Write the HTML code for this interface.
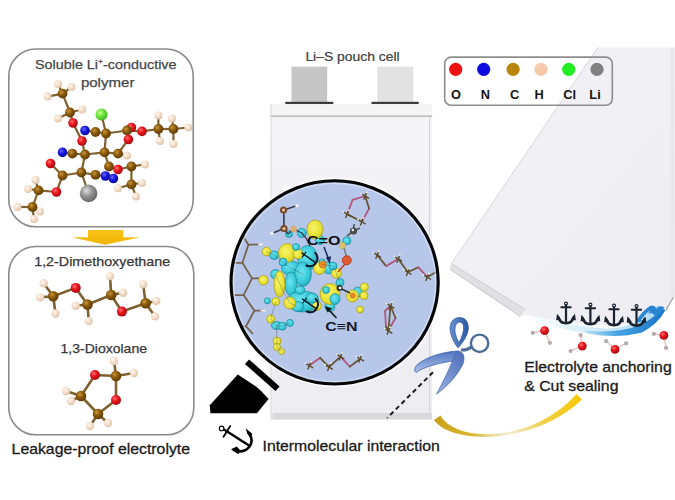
<!DOCTYPE html>
<html><head><meta charset="utf-8"><style>
html,body{margin:0;padding:0;background:#fff;}
body{width:675px;height:500px;overflow:hidden;position:relative;font-family:"Liberation Sans", sans-serif;}
svg{position:absolute;left:0;top:0;}
.t{position:absolute;white-space:nowrap;line-height:1;}
</style></head><body>
<svg width="675" height="500" viewBox="0 0 675 500">
<defs>
<radialGradient id="cC" cx="0.38" cy="0.35" r="0.7"><stop offset="0" stop-color="#c8973a"/><stop offset="0.45" stop-color="#8a5a0c"/><stop offset="1" stop-color="#5a3806"/></radialGradient>
<radialGradient id="cO" cx="0.38" cy="0.35" r="0.7"><stop offset="0" stop-color="#ff7070"/><stop offset="0.45" stop-color="#e8131c"/><stop offset="1" stop-color="#a00a10"/></radialGradient>
<radialGradient id="cN" cx="0.38" cy="0.35" r="0.7"><stop offset="0" stop-color="#6a6aff"/><stop offset="0.45" stop-color="#1717e0"/><stop offset="1" stop-color="#0a0a90"/></radialGradient>
<radialGradient id="cH" cx="0.38" cy="0.35" r="0.7"><stop offset="0" stop-color="#fff8f0"/><stop offset="0.45" stop-color="#f4e0cc"/><stop offset="1" stop-color="#dcc0a8"/></radialGradient>
<radialGradient id="cCl" cx="0.38" cy="0.35" r="0.7"><stop offset="0" stop-color="#c8ff90"/><stop offset="0.45" stop-color="#6ee63c"/><stop offset="1" stop-color="#40b020"/></radialGradient>
<radialGradient id="cLi" cx="0.38" cy="0.35" r="0.7"><stop offset="0" stop-color="#e0e0e0"/><stop offset="0.45" stop-color="#959595"/><stop offset="1" stop-color="#626262"/></radialGradient>
<linearGradient id="arrowY" x1="0" y1="0" x2="0" y2="1"><stop offset="0" stop-color="#f7c21a"/><stop offset="1" stop-color="#f0b400"/></linearGradient>
<linearGradient id="yarc" x1="0" y1="0" x2="1" y2="0"><stop offset="0" stop-color="#c8a01a"/><stop offset="0.25" stop-color="#d8b830"/><stop offset="0.5" stop-color="#f2eed8"/><stop offset="0.75" stop-color="#f0d048"/><stop offset="1" stop-color="#f8c800"/></linearGradient>
<linearGradient id="sheet" x1="0" y1="0" x2="1" y2="1"><stop offset="0" stop-color="#f2f2f6"/><stop offset="1" stop-color="#ededf2"/></linearGradient>
<linearGradient id="wave" x1="0" y1="0" x2="1" y2="0"><stop offset="0" stop-color="#eef8fc" stop-opacity="0.5"/><stop offset="0.5" stop-color="#cfeaf6"/><stop offset="1" stop-color="#a8d8f2"/></linearGradient><linearGradient id="waveB" x1="0" y1="0" x2="1" y2="0"><stop offset="0" stop-color="#9ad0f0" stop-opacity="0.6"/><stop offset="0.4" stop-color="#48a6e4"/><stop offset="1" stop-color="#1a72c6"/></linearGradient>
<linearGradient id="sciss" x1="0" y1="0" x2="1" y2="1"><stop offset="0" stop-color="#3f78c8"/><stop offset="1" stop-color="#9ab4e0"/></linearGradient>
<radialGradient id="gY" cx="0.42" cy="0.4" r="0.65"><stop offset="0" stop-color="#f6f46a"/><stop offset="0.7" stop-color="#e8e030"/><stop offset="1" stop-color="#c8c028"/></radialGradient>
<radialGradient id="gC" cx="0.42" cy="0.4" r="0.65"><stop offset="0" stop-color="#6ae6f0"/><stop offset="0.7" stop-color="#36c6d6"/><stop offset="1" stop-color="#1ea2b2"/></radialGradient>
<radialGradient id="gO" cx="0.5" cy="0.5" r="0.6"><stop offset="0" stop-color="#f07818"/><stop offset="1" stop-color="#e8a840"/></radialGradient>
<linearGradient id="pouchG" x1="0" y1="0" x2="0" y2="1"><stop offset="0" stop-color="#f5f5f7"/><stop offset="1" stop-color="#ededf1"/></linearGradient>
<filter id="soft" x="-10%" y="-10%" width="120%" height="120%"><feGaussianBlur stdDeviation="0.55"/></filter>
<linearGradient id="loopG" x1="0" y1="0" x2="1" y2="0"><stop offset="0" stop-color="#6a92d2"/><stop offset="1" stop-color="#2856a4"/></linearGradient>
<linearGradient id="bladeA" x1="0" y1="0" x2="0" y2="1"><stop offset="0" stop-color="#4f74c0"/><stop offset="1" stop-color="#aec2e8"/></linearGradient>
<linearGradient id="bladeB" x1="1" y1="0" x2="0" y2="1"><stop offset="0" stop-color="#4a6cb8"/><stop offset="1" stop-color="#9cb2e0"/></linearGradient>
<clipPath id="circ"><ellipse cx="334.6" cy="282.4" rx="104" ry="102"/></clipPath>
</defs>
<path d="M598,47.4 L675,47.4 L675,296 L673,297 L666,310 Q656,324 630,323 Q600,328 560,321 L527,315 L520.2,316.4 L449.8,269.2 L451.4,263.6 Z" fill="url(#sheet)"/>
<path d="M451.4,263.6 L525,309.2 L520.2,316.4 L449.8,269.2 Z" fill="#e0e0e4"/>
<line x1="451.4" y1="263.6" x2="525" y2="309.2" stroke="#cfd0d5" stroke-width="1"/>
<line x1="449.8" y1="269.2" x2="520.2" y2="316.4" stroke="#c8c8cd" stroke-width="1"/>
<line x1="598" y1="47.4" x2="451.4" y2="263.6" stroke="#d6d6dc" stroke-width="1"/>
<line x1="666" y1="310" x2="673.5" y2="297" stroke="#9a9aa0" stroke-width="1.2"/>
<rect x="670.5" y="47.4" width="3.5" height="249" fill="#e7e7ec"/>
<rect x="444.7" y="57.1" width="167.6" height="48.2" rx="6.5" fill="none" stroke="#8e8e8e" stroke-width="1.6"/>
<circle cx="455.7" cy="69.3" r="6.6" fill="#ee1111"/>
<circle cx="483.7" cy="69.3" r="6.6" fill="#0c0ce0"/>
<circle cx="513.1" cy="69.3" r="6.6" fill="#b8860b"/>
<circle cx="541" cy="69.3" r="6.6" fill="#f6c9aa"/>
<circle cx="568.7" cy="69.3" r="6.6" fill="#22ee22"/>
<circle cx="597" cy="69.3" r="6.6" fill="#808080"/>
<rect x="8.8" y="49" width="184.4" height="177.8" rx="27" fill="#fff" stroke="#8a8a8a" stroke-width="1.6"/>
<rect x="8.8" y="246.5" width="185" height="188.3" rx="27" fill="#fff" stroke="#8a8a8a" stroke-width="1.6"/>
<path d="M88,230 L123.3,230 L123.3,237.3 L140,237.3 L105,244.7 L72,237.3 L88,237.3 Z" fill="url(#arrowY)"/>
<rect x="291.5" y="66.7" width="35.7" height="36.5" fill="#c6c6c6"/>
<rect x="377.3" y="66.7" width="36" height="36.5" fill="#e2e2e2"/>
<rect x="285.3" y="101.8" width="48" height="3" fill="#3c3c3c"/>
<rect x="371.5" y="101.8" width="47.2" height="3" fill="#3c3c3c"/>
<rect x="270.6" y="104.2" width="161.5" height="315.3" fill="url(#pouchG)"/>
<rect x="270.6" y="104.2" width="161.5" height="11.5" fill="#f5f5f6"/>
<line x1="270.6" y1="116.2" x2="432.1" y2="116.2" stroke="#acacb0" stroke-width="1.3"/>
<rect x="272.5" y="412.5" width="159.6" height="7" fill="#d9d9dd"/>
<line x1="270.6" y1="411.8" x2="432.1" y2="411.8" stroke="#f6f6f6" stroke-width="1"/>
<line x1="429.6" y1="116" x2="429.6" y2="412" stroke="#d4d4d8" stroke-width="1"/>
<line x1="271" y1="104" x2="271" y2="419.5" stroke="#dadadf" stroke-width="1"/>
<ellipse cx="334.6" cy="282.4" rx="103.5" ry="101.5" fill="#b7c7e9"/>
<g clip-path="url(#circ)">
<polyline points="242,234.5 248.4,244.8 242.4,262.8 252,278.4 243.6,295.1 254.4,310.7 246,326.3 253,334" fill="none" stroke="#76634e" stroke-width="1.8" stroke-linejoin="round"/>
<line x1="248.4" y1="244.8" x2="259.5" y2="244.3" stroke="#76634e" stroke-width="1.7"/>
<line x1="242.4" y1="262.8" x2="229" y2="262.8" stroke="#76634e" stroke-width="1.7"/>
<line x1="252" y1="278.4" x2="261.6" y2="278.4" stroke="#76634e" stroke-width="1.7"/>
<line x1="243.6" y1="295.1" x2="230" y2="295.1" stroke="#76634e" stroke-width="1.7"/>
<line x1="254.4" y1="310.7" x2="262.8" y2="310.7" stroke="#76634e" stroke-width="1.7"/>
<line x1="246" y1="326.3" x2="235" y2="326.3" stroke="#76634e" stroke-width="1.7"/>
<line x1="258" y1="244.3" x2="263" y2="244.3" stroke="#f0ece8" stroke-width="1.8"/>
<line x1="260.5" y1="310.7" x2="265.5" y2="310.7" stroke="#f0ece8" stroke-width="1.8"/>
<line x1="228" y1="262.8" x2="233" y2="262.8" stroke="#f0ece8" stroke-width="1.8"/>
<line x1="229" y1="295.1" x2="234" y2="295.1" stroke="#f0ece8" stroke-width="1.8"/>
<line x1="234" y1="326.3" x2="239" y2="326.3" stroke="#f0ece8" stroke-width="1.8"/>
<line x1="365.2" y1="196" x2="352.6" y2="199.8" stroke="#b0587e" stroke-width="1.8" stroke-linecap="round"/><line x1="352.6" y1="199.8" x2="347.1" y2="214.1" stroke="#b0587e" stroke-width="1.8" stroke-linecap="round"/>
<line x1="347.1" y1="214.1" x2="361.9" y2="221.8" stroke="#665638" stroke-width="1.8" stroke-linecap="round"/>
<line x1="361.9" y1="221.8" x2="369.1" y2="208.6" stroke="#b0587e" stroke-width="1.8" stroke-linecap="round"/><line x1="369.1" y1="208.6" x2="365.2" y2="196" stroke="#665638" stroke-width="1.8" stroke-linecap="round"/>
<line x1="361.4" y1="193.72" x2="369.0" y2="198.28" stroke="#5a4a2a" stroke-width="1.4"/><line x1="363.68" y1="199.8" x2="366.71999999999997" y2="192.2" stroke="#5a4a2a" stroke-width="1.4"/><circle cx="361.4" cy="193.72" r="1" fill="#f4efe6"/><circle cx="366.71999999999997" cy="192.2" r="1" fill="#f4efe6"/>
<line x1="343.3" y1="211.82" x2="350.90000000000003" y2="216.38" stroke="#5a4a2a" stroke-width="1.4"/><line x1="345.58000000000004" y1="217.9" x2="348.62" y2="210.29999999999998" stroke="#5a4a2a" stroke-width="1.4"/><circle cx="343.3" cy="211.82" r="1" fill="#f4efe6"/><circle cx="348.62" cy="210.29999999999998" r="1" fill="#f4efe6"/>
<line x1="358.09999999999997" y1="219.52" x2="365.7" y2="224.08" stroke="#5a4a2a" stroke-width="1.4"/><line x1="360.38" y1="225.60000000000002" x2="363.41999999999996" y2="218.0" stroke="#5a4a2a" stroke-width="1.4"/><circle cx="358.09999999999997" cy="219.52" r="1" fill="#f4efe6"/><circle cx="363.41999999999996" cy="218.0" r="1" fill="#f4efe6"/>
<line x1="377.2" y1="255" x2="386.1" y2="266.1" stroke="#665638" stroke-width="1.8" stroke-linecap="round"/><line x1="386.1" y1="266.1" x2="398.3" y2="258.9" stroke="#b0587e" stroke-width="1.8" stroke-linecap="round"/><line x1="398.3" y1="258.9" x2="407.8" y2="272.2" stroke="#665638" stroke-width="1.8" stroke-linecap="round"/><line x1="407.8" y1="272.2" x2="418.3" y2="267.2" stroke="#665638" stroke-width="1.8" stroke-linecap="round"/><line x1="418.3" y1="267.2" x2="427.2" y2="277.2" stroke="#b0587e" stroke-width="1.8" stroke-linecap="round"/><line x1="427.2" y1="277.2" x2="436" y2="272" stroke="#665638" stroke-width="1.8" stroke-linecap="round"/>
<line x1="373.4" y1="252.72" x2="381.0" y2="257.28" stroke="#5a4a2a" stroke-width="1.4"/><line x1="375.68" y1="258.8" x2="378.71999999999997" y2="251.2" stroke="#5a4a2a" stroke-width="1.4"/><circle cx="373.4" cy="252.72" r="1" fill="#f4efe6"/><circle cx="378.71999999999997" cy="251.2" r="1" fill="#f4efe6"/>
<line x1="394.5" y1="256.62" x2="402.1" y2="261.17999999999995" stroke="#5a4a2a" stroke-width="1.4"/><line x1="396.78000000000003" y1="262.7" x2="399.82" y2="255.09999999999997" stroke="#5a4a2a" stroke-width="1.4"/><circle cx="394.5" cy="256.62" r="1" fill="#f4efe6"/><circle cx="399.82" cy="255.09999999999997" r="1" fill="#f4efe6"/>
<line x1="404.0" y1="269.92" x2="411.6" y2="274.47999999999996" stroke="#5a4a2a" stroke-width="1.4"/><line x1="406.28000000000003" y1="276.0" x2="409.32" y2="268.4" stroke="#5a4a2a" stroke-width="1.4"/><circle cx="404.0" cy="269.92" r="1" fill="#f4efe6"/><circle cx="409.32" cy="268.4" r="1" fill="#f4efe6"/>
<line x1="423.4" y1="274.92" x2="431.0" y2="279.47999999999996" stroke="#5a4a2a" stroke-width="1.4"/><line x1="425.68" y1="281.0" x2="428.71999999999997" y2="273.4" stroke="#5a4a2a" stroke-width="1.4"/><circle cx="423.4" cy="274.92" r="1" fill="#f4efe6"/><circle cx="428.71999999999997" cy="273.4" r="1" fill="#f4efe6"/>
<line x1="390.5" y1="306" x2="385" y2="311" stroke="#b0587e" stroke-width="1.8" stroke-linecap="round"/><line x1="385" y1="311" x2="386" y2="327" stroke="#b0587e" stroke-width="1.8" stroke-linecap="round"/>
<line x1="386" y1="327" x2="388.5" y2="329.5" stroke="#665638" stroke-width="1.8" stroke-linecap="round"/><line x1="388.5" y1="329.5" x2="391.5" y2="325" stroke="#665638" stroke-width="1.8" stroke-linecap="round"/>
<line x1="391.5" y1="325" x2="395.5" y2="318" stroke="#b0587e" stroke-width="1.8" stroke-linecap="round"/>
<line x1="395.5" y1="318" x2="390.5" y2="306" stroke="#665638" stroke-width="1.8" stroke-linecap="round"/>
<line x1="390.5" y1="306" x2="388.5" y2="329.5" stroke="#665638" stroke-width="1.8" stroke-linecap="round"/>
<line x1="386.7" y1="303.72" x2="394.3" y2="308.28" stroke="#5a4a2a" stroke-width="1.4"/><line x1="388.98" y1="309.8" x2="392.02" y2="302.2" stroke="#5a4a2a" stroke-width="1.4"/><circle cx="386.7" cy="303.72" r="1" fill="#f4efe6"/><circle cx="392.02" cy="302.2" r="1" fill="#f4efe6"/>
<line x1="384.7" y1="328.72" x2="392.3" y2="333.28" stroke="#5a4a2a" stroke-width="1.4"/><line x1="386.98" y1="334.8" x2="390.02" y2="327.2" stroke="#5a4a2a" stroke-width="1.4"/><circle cx="384.7" cy="328.72" r="1" fill="#f4efe6"/><circle cx="390.02" cy="327.2" r="1" fill="#f4efe6"/>
<line x1="309.3" y1="365.6" x2="320.2" y2="357.8" stroke="#b0587e" stroke-width="1.8" stroke-linecap="round"/><line x1="320.2" y1="357.8" x2="329" y2="367.1" stroke="#665638" stroke-width="1.8" stroke-linecap="round"/><line x1="329" y1="367.1" x2="340.5" y2="356.7" stroke="#665638" stroke-width="1.8" stroke-linecap="round"/><line x1="340.5" y1="356.7" x2="349.8" y2="366.6" stroke="#b0587e" stroke-width="1.8" stroke-linecap="round"/><line x1="349.8" y1="366.6" x2="360.2" y2="358.8" stroke="#665638" stroke-width="1.8" stroke-linecap="round"/>
<line x1="305.5" y1="363.32000000000005" x2="313.1" y2="367.88" stroke="#5a4a2a" stroke-width="1.4"/><line x1="307.78000000000003" y1="369.40000000000003" x2="310.82" y2="361.8" stroke="#5a4a2a" stroke-width="1.4"/><circle cx="305.5" cy="363.32000000000005" r="1" fill="#f4efe6"/><circle cx="310.82" cy="361.8" r="1" fill="#f4efe6"/>
<line x1="325.2" y1="364.82000000000005" x2="332.8" y2="369.38" stroke="#5a4a2a" stroke-width="1.4"/><line x1="327.48" y1="370.90000000000003" x2="330.52" y2="363.3" stroke="#5a4a2a" stroke-width="1.4"/><circle cx="325.2" cy="364.82000000000005" r="1" fill="#f4efe6"/><circle cx="330.52" cy="363.3" r="1" fill="#f4efe6"/>
<line x1="336.7" y1="354.42" x2="344.3" y2="358.97999999999996" stroke="#5a4a2a" stroke-width="1.4"/><line x1="338.98" y1="360.5" x2="342.02" y2="352.9" stroke="#5a4a2a" stroke-width="1.4"/><circle cx="336.7" cy="354.42" r="1" fill="#f4efe6"/><circle cx="342.02" cy="352.9" r="1" fill="#f4efe6"/>
<line x1="356.4" y1="356.52000000000004" x2="364.0" y2="361.08" stroke="#5a4a2a" stroke-width="1.4"/><line x1="358.68" y1="362.6" x2="361.71999999999997" y2="355.0" stroke="#5a4a2a" stroke-width="1.4"/><circle cx="356.4" cy="356.52000000000004" r="1" fill="#f4efe6"/><circle cx="361.71999999999997" cy="355.0" r="1" fill="#f4efe6"/>
<g filter="url(#soft)">
<ellipse cx="307.5" cy="258" rx="10" ry="12.5" fill="url(#gC)" stroke="#1a8c9c" stroke-width="0.7" transform="rotate(0 307.5 258)"/>
<ellipse cx="290.4" cy="267.8" rx="9" ry="7.2" fill="url(#gC)" stroke="#1a8c9c" stroke-width="0.7" transform="rotate(0 290.4 267.8)"/>
<ellipse cx="303" cy="274.2" rx="8.4" ry="12" fill="url(#gC)" stroke="#1a8c9c" stroke-width="0.7" transform="rotate(0 303 274.2)"/>
<ellipse cx="291" cy="284" rx="6" ry="12" fill="url(#gC)" stroke="#1a8c9c" stroke-width="0.7" transform="rotate(0 291 284)"/>
<ellipse cx="303" cy="301.5" rx="16" ry="10.5" fill="url(#gC)" stroke="#1a8c9c" stroke-width="0.7" transform="rotate(0 303 301.5)"/>
<ellipse cx="328.6" cy="267.8" rx="6" ry="6" fill="url(#gC)" stroke="#1a8c9c" stroke-width="0.7" transform="rotate(0 328.6 267.8)"/>
<ellipse cx="301.8" cy="233" rx="4.6" ry="4.6" fill="url(#gC)" stroke="#1a8c9c" stroke-width="0.7" transform="rotate(0 301.8 233)"/>
<ellipse cx="289" cy="234" rx="3.6" ry="3.4" fill="url(#gC)" stroke="#1a8c9c" stroke-width="0.7" transform="rotate(0 289 234)"/>
<ellipse cx="274.2" cy="255.2" rx="4.6" ry="4.3" fill="url(#gC)" stroke="#1a8c9c" stroke-width="0.7" transform="rotate(0 274.2 255.2)"/>
<ellipse cx="275.4" cy="274.2" rx="4.8" ry="4.8" fill="url(#gC)" stroke="#1a8c9c" stroke-width="0.7" transform="rotate(0 275.4 274.2)"/>
<ellipse cx="329.8" cy="306.6" rx="5" ry="5" fill="url(#gC)" stroke="#1a8c9c" stroke-width="0.7" transform="rotate(0 329.8 306.6)"/>
<ellipse cx="346.8" cy="240.8" rx="4" ry="4" fill="url(#gC)" stroke="#1a8c9c" stroke-width="0.7" transform="rotate(0 346.8 240.8)"/>
<ellipse cx="340" cy="282.5" rx="4" ry="4" fill="url(#gC)" stroke="#1a8c9c" stroke-width="0.7" transform="rotate(0 340 282.5)"/>
<ellipse cx="358" cy="292" rx="5" ry="5" fill="url(#gC)" stroke="#1a8c9c" stroke-width="0.7" transform="rotate(0 358 292)"/>
<ellipse cx="297.9" cy="306.7" rx="6" ry="5" fill="url(#gC)" stroke="#1a8c9c" stroke-width="0.7" transform="rotate(0 297.9 306.7)"/>
<ellipse cx="267.3" cy="300.8" rx="3" ry="3" fill="url(#gC)" stroke="#1a8c9c" stroke-width="0.7" transform="rotate(0 267.3 300.8)"/>
<ellipse cx="276.4" cy="325.5" rx="5" ry="4" fill="url(#gC)" stroke="#1a8c9c" stroke-width="0.7" transform="rotate(0 276.4 325.5)"/>
<ellipse cx="282.3" cy="326.2" rx="4" ry="4" fill="url(#gC)" stroke="#1a8c9c" stroke-width="0.7" transform="rotate(0 282.3 326.2)"/>
<ellipse cx="290" cy="322.9" rx="3.5" ry="3.5" fill="url(#gC)" stroke="#1a8c9c" stroke-width="0.7" transform="rotate(0 290 322.9)"/>
<ellipse cx="320" cy="240" rx="4.5" ry="4.5" fill="url(#gC)" stroke="#1a8c9c" stroke-width="0.7" transform="rotate(0 320 240)"/>
<ellipse cx="315" cy="229.5" rx="8" ry="9.5" fill="url(#gY)" stroke="#a8a018" stroke-width="0.7" transform="rotate(0 315 229.5)"/>
<ellipse cx="287" cy="253" rx="8.5" ry="9.5" fill="url(#gY)" stroke="#a8a018" stroke-width="0.7" transform="rotate(0 287 253)"/>
<ellipse cx="298" cy="254" rx="5" ry="5" fill="url(#gY)" stroke="#a8a018" stroke-width="0.7" transform="rotate(0 298 254)"/>
<ellipse cx="266.4" cy="251.6" rx="4.3" ry="4.3" fill="url(#gY)" stroke="#a8a018" stroke-width="0.7" transform="rotate(0 266.4 251.6)"/>
<ellipse cx="319.5" cy="268" rx="6" ry="6.5" fill="url(#gY)" stroke="#a8a018" stroke-width="0.7" transform="rotate(0 319.5 268)"/>
<ellipse cx="279.5" cy="284" rx="5.5" ry="13" fill="url(#gY)" stroke="#a8a018" stroke-width="0.7" transform="rotate(0 279.5 284)"/>
<ellipse cx="263.4" cy="280.2" rx="4.8" ry="4.8" fill="url(#gY)" stroke="#a8a018" stroke-width="0.7" transform="rotate(0 263.4 280.2)"/>
<ellipse cx="289.8" cy="303" rx="6" ry="6" fill="url(#gY)" stroke="#a8a018" stroke-width="0.7" transform="rotate(0 289.8 303)"/>
<ellipse cx="330" cy="294" rx="10" ry="10.5" fill="url(#gY)" stroke="#a8a018" stroke-width="0.7" transform="rotate(0 330 294)"/>
<ellipse cx="336.4" cy="273.3" rx="5" ry="5" fill="url(#gY)" stroke="#a8a018" stroke-width="0.7" transform="rotate(0 336.4 273.3)"/>
<ellipse cx="352.5" cy="296" rx="6" ry="6" fill="url(#gY)" stroke="#a8a018" stroke-width="0.7" transform="rotate(0 352.5 296)"/>
<ellipse cx="364.4" cy="287" rx="4" ry="4" fill="url(#gY)" stroke="#a8a018" stroke-width="0.7" transform="rotate(0 364.4 287)"/>
<ellipse cx="364" cy="295.5" rx="4" ry="4" fill="url(#gY)" stroke="#a8a018" stroke-width="0.7" transform="rotate(0 364 295.5)"/>
<ellipse cx="360" cy="309.5" rx="3.5" ry="3.5" fill="url(#gY)" stroke="#a8a018" stroke-width="0.7" transform="rotate(0 360 309.5)"/>
<ellipse cx="275.8" cy="301.5" rx="4" ry="4" fill="url(#gY)" stroke="#a8a018" stroke-width="0.7" transform="rotate(0 275.8 301.5)"/>
<ellipse cx="270.6" cy="319" rx="4" ry="4" fill="url(#gY)" stroke="#a8a018" stroke-width="0.7" transform="rotate(0 270.6 319)"/>
<ellipse cx="277" cy="341" rx="4" ry="4" fill="url(#gY)" stroke="#a8a018" stroke-width="0.7" transform="rotate(0 277 341)"/>
<ellipse cx="277" cy="347" rx="3.5" ry="3.5" fill="url(#gY)" stroke="#a8a018" stroke-width="0.7" transform="rotate(0 277 347)"/>
<ellipse cx="281.6" cy="351.5" rx="3" ry="3" fill="url(#gY)" stroke="#a8a018" stroke-width="0.7" transform="rotate(0 281.6 351.5)"/>
<ellipse cx="342.3" cy="245.4" rx="3" ry="3" fill="url(#gY)" stroke="#a8a018" stroke-width="0.7" transform="rotate(0 342.3 245.4)"/>
<ellipse cx="317" cy="306" rx="4.5" ry="4.5" fill="url(#gY)" stroke="#a8a018" stroke-width="0.7" transform="rotate(0 317 306)"/>
<ellipse cx="322" cy="262" rx="3.2" ry="3.2" fill="url(#gC)" stroke="#1a8c9c" stroke-width="0.7" transform="rotate(0 322 262)"/>
<ellipse cx="333" cy="266" rx="4" ry="4" fill="url(#gC)" stroke="#1a8c9c" stroke-width="0.7" transform="rotate(0 333 266)"/>
<ellipse cx="312" cy="298" rx="6" ry="5" fill="url(#gC)" stroke="#1a8c9c" stroke-width="0.7" transform="rotate(0 312 298)"/>
<ellipse cx="300" cy="290" rx="5" ry="4" fill="url(#gC)" stroke="#1a8c9c" stroke-width="0.7" transform="rotate(0 300 290)"/>
<ellipse cx="283" cy="262" rx="4" ry="4" fill="url(#gC)" stroke="#1a8c9c" stroke-width="0.7" transform="rotate(0 283 262)"/>
<ellipse cx="296" cy="247" rx="3.5" ry="3.5" fill="url(#gC)" stroke="#1a8c9c" stroke-width="0.7" transform="rotate(0 296 247)"/>
<ellipse cx="335" cy="299" rx="5" ry="5.5" fill="url(#gC)" stroke="#1a8c9c" stroke-width="0.7" transform="rotate(0 335 299)"/>
<ellipse cx="326" cy="290" rx="3.5" ry="3.5" fill="url(#gC)" stroke="#1a8c9c" stroke-width="0.7" transform="rotate(0 326 290)"/>
<ellipse cx="322.8" cy="264.5" rx="3.6" ry="3.6" fill="url(#gO)" stroke="#b86a18" stroke-width="0.7" transform="rotate(0 322.8 264.5)"/>
<ellipse cx="352.6" cy="295.5" rx="2.6" ry="2.6" fill="url(#gO)" stroke="#b86a18" stroke-width="0.7" transform="rotate(0 352.6 295.5)"/>
</g>
<polyline points="284,228.5 288,234 293.5,229 301.8,233 306,238 310,246" fill="none" stroke="#334" stroke-width="1.3"/>
<polyline points="266.4,251.6 274.2,255.2 283,262 290.4,267.8 303,274.2" fill="none" stroke="#2d4040" stroke-width="1" opacity="0.3"/>
<polyline points="275.4,274.2 281.4,287.4 289.8,303 297.9,306.7" fill="none" stroke="#2d4040" stroke-width="1" opacity="0.3"/>
<polyline points="275.8,301.5 270.6,319 276.4,325.5 282.3,326.2 290,322.9" fill="none" stroke="#2d4040" stroke-width="1" opacity="0.3"/>
<polyline points="276.4,325.5 277,341 277,347 281.6,351.5" fill="none" stroke="#2d4040" stroke-width="1" opacity="0.3"/>
<polyline points="322.8,264.5 333,266 336.4,273.3 340,282.5 339.5,288" fill="none" stroke="#2d4040" stroke-width="1" opacity="0.3"/>
<line x1="283.8" y1="210" x2="284" y2="228.5" stroke="#3a3a4a" stroke-width="1.6"/>
<line x1="283.8" y1="210" x2="296" y2="206" stroke="#3a3a4a" stroke-width="1.4"/><line x1="284" y1="228.5" x2="273" y2="233" stroke="#3a3a4a" stroke-width="1.4"/><circle cx="297" cy="205.8" r="1.8" fill="#f2f2f2"/><circle cx="272" cy="233.3" r="1.8" fill="#f2f2f2"/>
<circle cx="283.5" cy="210" r="3.6" fill="#7a4a28"/><circle cx="283.5" cy="210" r="1.5" fill="#e8c8a8"/>
<circle cx="284" cy="228.5" r="3.6" fill="#7a4a28"/><circle cx="284" cy="228.5" r="1.5" fill="#e8c8a8"/>
<circle cx="293.5" cy="229" r="3.2" fill="#d8b070"/>
<line x1="344" y1="248" x2="346.8" y2="258" stroke="#777" stroke-width="1.4"/><line x1="346.8" y1="262" x2="338" y2="272" stroke="#c04020" stroke-width="1.4"/>
<path d="M353.5,231 L347,236 M353.5,231 L360,228 M353.5,231 L354,224" stroke="#555" stroke-width="1.6"/><circle cx="353.5" cy="231" r="3.6" fill="#4a4a4a"/><circle cx="352.8" cy="230" r="1.3" fill="#eee"/>
<circle cx="346.8" cy="260.3" r="4.5" fill="#e05a32" stroke="#b03018" stroke-width="0.8"/>
<circle cx="342.3" cy="245.4" r="3" fill="#d8c070"/>
<line x1="339.5" y1="288" x2="350" y2="293" stroke="#333" stroke-width="1.4"/>
<circle cx="339.5" cy="288" r="3" fill="#333"/><circle cx="340" cy="288" r="1.3" fill="#fff"/>
<g transform="translate(309,258) rotate(-55) scale(0.85) translate(0,-11)" fill="none" stroke="#0d1a2a" stroke-linecap="round"><line x1="-3.5" y1="4" x2="3.5" y2="4" stroke-width="1.4"/><line x1="0" y1="1" x2="0" y2="20.5" stroke-width="1.7"/><path d="M-9,13.5 Q-7.5,20.8 0,21 Q7.5,20.8 9,13.5" stroke-width="2.3"/></g>
<g transform="translate(309.5,304) rotate(-55) scale(0.85) translate(0,-11)" fill="none" stroke="#0d1a2a" stroke-linecap="round"><line x1="-3.5" y1="4" x2="3.5" y2="4" stroke-width="1.4"/><line x1="0" y1="1" x2="0" y2="20.5" stroke-width="1.7"/><path d="M-9,13.5 Q-7.5,20.8 0,21 Q7.5,20.8 9,13.5" stroke-width="2.3"/></g>
<line x1="324" y1="247" x2="328.6" y2="259" stroke="#1a2a60" stroke-width="1.5"/><path d="M325.8,257.5 L329.6,264 L331.2,256.3 Z" fill="#1a2a60"/>
<line x1="336.5" y1="318" x2="328" y2="309" stroke="#111" stroke-width="1.5"/><path d="M325,306 L332,308.5 L327.5,312.5 Z" fill="#111"/>
<text x="307" y="245" font-family='"Liberation Sans", sans-serif' font-weight="bold" font-size="12.6" fill="#111" textLength="33.5" lengthAdjust="spacingAndGlyphs">C=O</text>
<text x="325.2" y="331.2" font-family='"Liberation Sans", sans-serif' font-weight="bold" font-size="13.4" fill="#151a30" textLength="32.4" lengthAdjust="spacingAndGlyphs">C≡N</text>
</g>
<ellipse cx="334.6" cy="282.4" rx="101" ry="99" fill="none" stroke="#dfe8f6" stroke-width="1.2" opacity="0.7"/>
<ellipse cx="334.6" cy="282.4" rx="106" ry="104" fill="none" stroke="#ffffff" stroke-width="1.6" opacity="0.8"/>
<ellipse cx="334.6" cy="282.4" rx="103.6" ry="101.6" fill="none" stroke="#050505" stroke-width="3.1"/>
<path d="M209.8,405.3 L237.8,374.5 L256,386.4 L261.6,391.5 L268.6,399 L256.9,413.2 L210.4,413.2 Z" fill="#000"/>
<line x1="247" y1="361.7" x2="277.6" y2="388.7" stroke="#000" stroke-width="6.2"/>
<line x1="433" y1="372.2" x2="387.2" y2="418" stroke="#1e1e1e" stroke-width="2" stroke-dasharray="4.6,3.4"/>
<path d="M458,348 C452,340 448,330 451,323 C453,318 459,316.5 463,318 C468,320 469.5,327 467.5,333 C465.5,339 461.5,344 458,348 Z M459,342.5 C462,337 464,331 463.5,326 C463,322.5 460,321.3 457.5,322.8 C455,325 454.3,330 455.8,335 C456.6,338 457.8,340.5 459,342.5 Z" fill="url(#loopG)" fill-rule="evenodd" stroke="#2a4f90" stroke-width="0.6"/>
<circle cx="479.6" cy="343.3" r="8.7" fill="none" stroke="#4d6d98" stroke-width="2.4"/>
<path d="M461,350 Q467,350.5 471.5,347" stroke="#4d6d98" stroke-width="3" fill="none"/>
<path d="M459,351 C445,351.5 428,356 418,364 C414,367.5 414,371 416,372.5 C424,367 438,362.5 461,360 Z" fill="url(#bladeA)" stroke="#3f62a8" stroke-width="0.8"/>
<path d="M455,353.5 C451,366 444,380 436.5,394 C447,387 457,376 463,364 C465,358 464,353 460,351.5 Z" fill="url(#bladeB)" stroke="#4a6cb0" stroke-width="0.7"/>
<path d="M434,420 C452,445.5 535,444.5 582,399.5 L576.5,394 C532,443.5 456,443 440.5,415.5 Z" fill="url(#yarc)"/>
<path d="M530,314.5 Q570,326 605,328.5 Q630,328 643,317 Q650,310 657,305.5 L664,308.5 Q655,323 636,331 Q606,337 572,331 Q548,326 530,317 Z" fill="url(#wave)"/>
<path d="M584,330.5 Q618,334 640,325 Q654,318 662,309 L665.5,310 Q658,324 642,332.5 Q616,339 588,333.5 Z" fill="url(#waveB)"/>
<path d="M636,321 Q643,310 650,306 Q654,304.5 656.5,308.5 Q659.5,304.5 664.5,307.5 Q661,313 655.5,317 Q652.5,311.5 648.5,313.5 Q644,317 640,322.5 Z" fill="#2a86d2"/>
<path d="M641,320 Q646,313 650,310.5 Q647,316 644,320.5 Z" fill="#ffffff" opacity="0.7"/>
<g transform="translate(566,302) scale(1.0)" fill="none" stroke="#1b2230" stroke-linecap="round"><circle cx="0" cy="1.6" r="1.5" stroke-width="1.1"/><line x1="-4.7" y1="5.3" x2="4.7" y2="5.3" stroke-width="2"/><line x1="0" y1="3" x2="0" y2="20.5" stroke-width="2.2"/><path d="M-7.8,15 Q-6.5,21 0,21.2 Q6.5,21 7.8,15" stroke-width="2.5"/><path d="M-8.6,13.2 L-5.6,17.2 L-9.2,17.6 Z M8.6,13.2 L5.6,17.2 L9.2,17.6 Z" fill="#1b2230" stroke="#1b2230" stroke-width="1.1"/></g>
<g transform="translate(590.4,303) scale(1.0)" fill="none" stroke="#1b2230" stroke-linecap="round"><circle cx="0" cy="1.6" r="1.5" stroke-width="1.1"/><line x1="-4.7" y1="5.3" x2="4.7" y2="5.3" stroke-width="2"/><line x1="0" y1="3" x2="0" y2="20.5" stroke-width="2.2"/><path d="M-7.8,15 Q-6.5,21 0,21.2 Q6.5,21 7.8,15" stroke-width="2.5"/><path d="M-8.6,13.2 L-5.6,17.2 L-9.2,17.6 Z M8.6,13.2 L5.6,17.2 L9.2,17.6 Z" fill="#1b2230" stroke="#1b2230" stroke-width="1.1"/></g>
<g transform="translate(614,304) scale(1.0)" fill="none" stroke="#1b2230" stroke-linecap="round"><circle cx="0" cy="1.6" r="1.5" stroke-width="1.1"/><line x1="-4.7" y1="5.3" x2="4.7" y2="5.3" stroke-width="2"/><line x1="0" y1="3" x2="0" y2="20.5" stroke-width="2.2"/><path d="M-7.8,15 Q-6.5,21 0,21.2 Q6.5,21 7.8,15" stroke-width="2.5"/><path d="M-8.6,13.2 L-5.6,17.2 L-9.2,17.6 Z M8.6,13.2 L5.6,17.2 L9.2,17.6 Z" fill="#1b2230" stroke="#1b2230" stroke-width="1.1"/></g>
<g transform="translate(636.5,304.5) scale(1.0)" fill="none" stroke="#1b2230" stroke-linecap="round"><circle cx="0" cy="1.6" r="1.5" stroke-width="1.1"/><line x1="-4.7" y1="5.3" x2="4.7" y2="5.3" stroke-width="2"/><line x1="0" y1="3" x2="0" y2="20.5" stroke-width="2.2"/><path d="M-7.8,15 Q-6.5,21 0,21.2 Q6.5,21 7.8,15" stroke-width="2.5"/><path d="M-8.6,13.2 L-5.6,17.2 L-9.2,17.6 Z M8.6,13.2 L5.6,17.2 L9.2,17.6 Z" fill="#1b2230" stroke="#1b2230" stroke-width="1.1"/></g>
<line x1="544.6" y1="330.6" x2="532.8" y2="332.8" stroke="#e8c8c4" stroke-width="1.6"/>
<circle cx="532.8" cy="332.8" r="2.1" fill="#b4acac"/>
<line x1="544.6" y1="330.6" x2="549.9" y2="342.8" stroke="#e8c8c4" stroke-width="1.6"/>
<circle cx="549.9" cy="342.8" r="2.1" fill="#b4acac"/>
<circle cx="544.6" cy="330.6" r="4.4" fill="url(#cO)"/>
<line x1="582.3" y1="346.1" x2="580.6" y2="335" stroke="#e8c8c4" stroke-width="1.6"/>
<circle cx="580.6" cy="335" r="2.1" fill="#b4acac"/>
<line x1="582.3" y1="346.1" x2="570.6" y2="351" stroke="#e8c8c4" stroke-width="1.6"/>
<circle cx="570.6" cy="351" r="2.1" fill="#b4acac"/>
<circle cx="582.3" cy="346.1" r="4.4" fill="url(#cO)"/>
<line x1="615" y1="349.4" x2="606.1" y2="341.2" stroke="#e8c8c4" stroke-width="1.6"/>
<circle cx="606.1" cy="341.2" r="2.1" fill="#b4acac"/>
<line x1="615" y1="349.4" x2="626.1" y2="343.4" stroke="#e8c8c4" stroke-width="1.6"/>
<circle cx="626.1" cy="343.4" r="2.1" fill="#b4acac"/>
<circle cx="615" cy="349.4" r="4.4" fill="url(#cO)"/>
<line x1="663.9" y1="335.4" x2="653.9" y2="333.9" stroke="#e8c8c4" stroke-width="1.6"/>
<circle cx="653.9" cy="333.9" r="2.1" fill="#b4acac"/>
<line x1="663.9" y1="335.4" x2="666.1" y2="347.9" stroke="#e8c8c4" stroke-width="1.6"/>
<circle cx="666.1" cy="347.9" r="2.1" fill="#b4acac"/>
<circle cx="663.9" cy="335.4" r="4.4" fill="url(#cO)"/>
<line x1="58" y1="84" x2="62.5" y2="93.6" stroke="#7d6230" stroke-width="2.2"/>
<line x1="71.5" y1="87" x2="62.5" y2="93.6" stroke="#7d6230" stroke-width="2.2"/>
<line x1="47.5" y1="96.6" x2="62.5" y2="93.6" stroke="#7d6230" stroke-width="2.2"/>
<line x1="62.5" y1="93.6" x2="70" y2="112.5" stroke="#7d6230" stroke-width="2.2"/>
<line x1="70" y1="112.5" x2="82" y2="109.5" stroke="#7d6230" stroke-width="2.2"/>
<line x1="70" y1="112.5" x2="58" y2="118.5" stroke="#7d6230" stroke-width="2.2"/>
<line x1="70" y1="112.5" x2="73" y2="123" stroke="#7d6230" stroke-width="2.2"/>
<line x1="73" y1="123" x2="82" y2="141" stroke="#7d6230" stroke-width="2.2"/>
<line x1="82" y1="141" x2="85" y2="154.5" stroke="#7d6230" stroke-width="2.2"/>
<line x1="85" y1="130.5" x2="95.5" y2="132" stroke="#7d6230" stroke-width="2.2"/>
<line x1="95.5" y1="132" x2="106" y2="133.5" stroke="#7d6230" stroke-width="2.2"/>
<line x1="106" y1="133.5" x2="101.5" y2="114.5" stroke="#7d6230" stroke-width="2.2"/>
<line x1="106" y1="133.5" x2="127" y2="130.5" stroke="#7d6230" stroke-width="2.2"/>
<line x1="127" y1="130.5" x2="131.4" y2="127.5" stroke="#7d6230" stroke-width="2.2"/>
<line x1="127" y1="130.5" x2="142" y2="131.4" stroke="#7d6230" stroke-width="2.2"/>
<line x1="142" y1="131.4" x2="158.4" y2="129" stroke="#7d6230" stroke-width="2.2"/>
<line x1="158.4" y1="129" x2="158.4" y2="115.5" stroke="#7d6230" stroke-width="2.2"/>
<line x1="158.4" y1="129" x2="160" y2="141" stroke="#7d6230" stroke-width="2.2"/>
<line x1="158.4" y1="129" x2="173.4" y2="129" stroke="#7d6230" stroke-width="2.2"/>
<line x1="173.4" y1="129" x2="172" y2="118.5" stroke="#7d6230" stroke-width="2.2"/>
<line x1="173.4" y1="129" x2="188.4" y2="127.5" stroke="#7d6230" stroke-width="2.2"/>
<line x1="173.4" y1="129" x2="173.4" y2="144" stroke="#7d6230" stroke-width="2.2"/>
<line x1="127" y1="130.5" x2="128.4" y2="139.5" stroke="#7d6230" stroke-width="2.2"/>
<line x1="128.4" y1="139.5" x2="118" y2="153.6" stroke="#7d6230" stroke-width="2.2"/>
<line x1="106" y1="133.5" x2="104.5" y2="152.4" stroke="#7d6230" stroke-width="2.2"/>
<line x1="62.5" y1="152.4" x2="72.4" y2="153.6" stroke="#7d6230" stroke-width="2.2"/>
<line x1="72.4" y1="153.6" x2="85" y2="154.5" stroke="#7d6230" stroke-width="2.2"/>
<line x1="85" y1="154.5" x2="104.5" y2="152.4" stroke="#7d6230" stroke-width="2.2"/>
<line x1="104.5" y1="152.4" x2="118" y2="153.6" stroke="#7d6230" stroke-width="2.2"/>
<line x1="118" y1="153.6" x2="127" y2="155.4" stroke="#7d6230" stroke-width="2.2"/>
<line x1="104.5" y1="152.4" x2="109" y2="166.5" stroke="#7d6230" stroke-width="2.2"/>
<line x1="109" y1="166.5" x2="118" y2="169.5" stroke="#7d6230" stroke-width="2.2"/>
<line x1="118" y1="169.5" x2="131.4" y2="166.5" stroke="#7d6230" stroke-width="2.2"/>
<line x1="131.4" y1="166.5" x2="145" y2="164.4" stroke="#7d6230" stroke-width="2.2"/>
<line x1="131.4" y1="166.5" x2="131.4" y2="184.4" stroke="#7d6230" stroke-width="2.2"/>
<line x1="131.4" y1="184.4" x2="118" y2="188.3" stroke="#7d6230" stroke-width="2.2"/>
<line x1="131.4" y1="184.4" x2="142" y2="183" stroke="#7d6230" stroke-width="2.2"/>
<line x1="131.4" y1="184.4" x2="136" y2="196.4" stroke="#7d6230" stroke-width="2.2"/>
<line x1="85" y1="154.5" x2="81.4" y2="172.5" stroke="#7d6230" stroke-width="2.2"/>
<line x1="81.4" y1="172.5" x2="62.5" y2="175.5" stroke="#7d6230" stroke-width="2.2"/>
<line x1="62.5" y1="175.5" x2="50.5" y2="163.5" stroke="#7d6230" stroke-width="2.2"/>
<line x1="62.5" y1="175.5" x2="56.5" y2="192" stroke="#7d6230" stroke-width="2.2"/>
<line x1="56.5" y1="192" x2="38.5" y2="190.4" stroke="#7d6230" stroke-width="2.2"/>
<line x1="38.5" y1="190.4" x2="35.5" y2="180" stroke="#7d6230" stroke-width="2.2"/>
<line x1="38.5" y1="190.4" x2="28" y2="189" stroke="#7d6230" stroke-width="2.2"/>
<line x1="38.5" y1="190.4" x2="32.5" y2="207" stroke="#7d6230" stroke-width="2.2"/>
<line x1="32.5" y1="207" x2="17.5" y2="207" stroke="#7d6230" stroke-width="2.2"/>
<line x1="32.5" y1="207" x2="40" y2="211.4" stroke="#7d6230" stroke-width="2.2"/>
<line x1="32.5" y1="207" x2="34" y2="219" stroke="#7d6230" stroke-width="2.2"/>
<line x1="81.4" y1="172.5" x2="95.5" y2="174.8" stroke="#7d6230" stroke-width="2.2"/>
<line x1="95.5" y1="174.8" x2="105.4" y2="176" stroke="#7d6230" stroke-width="2.2"/>
<line x1="105.4" y1="176" x2="113.4" y2="178.5" stroke="#7d6230" stroke-width="2.2"/>
<line x1="81.4" y1="172.5" x2="88.6" y2="193.4" stroke="#7d6230" stroke-width="2.2"/>
<circle cx="58" cy="84" r="4.0" fill="url(#cH)"/>
<circle cx="71.5" cy="87" r="4.0" fill="url(#cH)"/>
<circle cx="47.5" cy="96.6" r="4.0" fill="url(#cH)"/>
<circle cx="82" cy="109.5" r="4.0" fill="url(#cH)"/>
<circle cx="58" cy="118.5" r="4.0" fill="url(#cH)"/>
<circle cx="158.4" cy="115.5" r="4.0" fill="url(#cH)"/>
<circle cx="160" cy="141" r="4.0" fill="url(#cH)"/>
<circle cx="172" cy="118.5" r="4.0" fill="url(#cH)"/>
<circle cx="188.4" cy="127.5" r="4.0" fill="url(#cH)"/>
<circle cx="173.4" cy="144" r="4.0" fill="url(#cH)"/>
<circle cx="127" cy="155.4" r="4.0" fill="url(#cH)"/>
<circle cx="145" cy="164.4" r="4.0" fill="url(#cH)"/>
<circle cx="118" cy="188.3" r="4.0" fill="url(#cH)"/>
<circle cx="142" cy="183" r="4.0" fill="url(#cH)"/>
<circle cx="136" cy="196.4" r="4.0" fill="url(#cH)"/>
<circle cx="35.5" cy="180" r="4.0" fill="url(#cH)"/>
<circle cx="28" cy="189" r="4.0" fill="url(#cH)"/>
<circle cx="17.5" cy="207" r="4.0" fill="url(#cH)"/>
<circle cx="40" cy="211.4" r="4.0" fill="url(#cH)"/>
<circle cx="34" cy="219" r="4.0" fill="url(#cH)"/>
<circle cx="131.4" cy="127.5" r="4.8" fill="url(#cO)"/>
<circle cx="62.5" cy="93.6" r="4.9" fill="url(#cC)"/>
<circle cx="70" cy="112.5" r="4.9" fill="url(#cC)"/>
<circle cx="73" cy="123" r="4.8" fill="url(#cO)"/>
<circle cx="82" cy="141" r="4.8" fill="url(#cO)"/>
<circle cx="101.5" cy="114.5" r="6.0" fill="url(#cCl)"/>
<circle cx="85" cy="130.5" r="4.8" fill="url(#cN)"/>
<circle cx="95.5" cy="132" r="4.9" fill="url(#cC)"/>
<circle cx="106" cy="133.5" r="4.9" fill="url(#cC)"/>
<circle cx="127" cy="130.5" r="4.9" fill="url(#cC)"/>
<circle cx="142" cy="131.4" r="4.8" fill="url(#cO)"/>
<circle cx="158.4" cy="129" r="4.9" fill="url(#cC)"/>
<circle cx="173.4" cy="129" r="4.9" fill="url(#cC)"/>
<circle cx="128.4" cy="139.5" r="4.8" fill="url(#cO)"/>
<circle cx="62.5" cy="152.4" r="4.8" fill="url(#cN)"/>
<circle cx="72.4" cy="153.6" r="4.9" fill="url(#cC)"/>
<circle cx="85" cy="154.5" r="4.9" fill="url(#cC)"/>
<circle cx="104.5" cy="152.4" r="4.9" fill="url(#cC)"/>
<circle cx="118" cy="153.6" r="4.9" fill="url(#cC)"/>
<circle cx="109" cy="166.5" r="4.9" fill="url(#cC)"/>
<circle cx="118" cy="169.5" r="4.8" fill="url(#cO)"/>
<circle cx="131.4" cy="166.5" r="4.9" fill="url(#cC)"/>
<circle cx="50.5" cy="163.5" r="4.8" fill="url(#cO)"/>
<circle cx="62.5" cy="175.5" r="4.9" fill="url(#cC)"/>
<circle cx="81.4" cy="172.5" r="4.9" fill="url(#cC)"/>
<circle cx="95.5" cy="174.8" r="4.9" fill="url(#cC)"/>
<circle cx="105.4" cy="176" r="4.8" fill="url(#cN)"/>
<circle cx="113.4" cy="178.5" r="4.8" fill="url(#cN)"/>
<circle cx="131.4" cy="184.4" r="4.9" fill="url(#cC)"/>
<circle cx="56.5" cy="192" r="4.8" fill="url(#cO)"/>
<circle cx="88.6" cy="193.4" r="8.8" fill="url(#cLi)"/>
<circle cx="38.5" cy="190.4" r="4.9" fill="url(#cC)"/>
<circle cx="32.5" cy="207" r="4.9" fill="url(#cC)"/>
<line x1="43.7" y1="283.2" x2="53.2" y2="296.2" stroke="#7d6230" stroke-width="2.6"/>
<line x1="40.1" y1="297.4" x2="53.2" y2="296.2" stroke="#7d6230" stroke-width="2.6"/>
<line x1="53.2" y1="296.2" x2="55.5" y2="313.5" stroke="#7d6230" stroke-width="2.6"/>
<line x1="53.2" y1="296.2" x2="75.7" y2="287.9" stroke="#7d6230" stroke-width="2.6"/>
<line x1="75.7" y1="287.9" x2="87.5" y2="304.5" stroke="#7d6230" stroke-width="2.6"/>
<line x1="87.5" y1="304.5" x2="75.7" y2="305.7" stroke="#7d6230" stroke-width="2.6"/>
<line x1="87.5" y1="304.5" x2="88.7" y2="321.1" stroke="#7d6230" stroke-width="2.6"/>
<line x1="87.5" y1="304.5" x2="111.2" y2="295" stroke="#7d6230" stroke-width="2.6"/>
<line x1="111.2" y1="295" x2="110" y2="276.1" stroke="#7d6230" stroke-width="2.6"/>
<line x1="111.2" y1="295" x2="123.1" y2="292.7" stroke="#7d6230" stroke-width="2.6"/>
<line x1="111.2" y1="295" x2="121.9" y2="311.6" stroke="#7d6230" stroke-width="2.6"/>
<line x1="121.9" y1="311.6" x2="145.6" y2="303.3" stroke="#7d6230" stroke-width="2.6"/>
<line x1="145.6" y1="303.3" x2="143.2" y2="284.4" stroke="#7d6230" stroke-width="2.6"/>
<line x1="145.6" y1="303.3" x2="156.3" y2="301" stroke="#7d6230" stroke-width="2.6"/>
<line x1="145.6" y1="303.3" x2="155.1" y2="316.4" stroke="#7d6230" stroke-width="2.6"/>
<circle cx="43.7" cy="283.2" r="4.2" fill="url(#cH)"/>
<circle cx="40.1" cy="297.4" r="4.2" fill="url(#cH)"/>
<circle cx="55.5" cy="313.5" r="4.2" fill="url(#cH)"/>
<circle cx="75.7" cy="305.7" r="4.2" fill="url(#cH)"/>
<circle cx="88.7" cy="321.1" r="4.2" fill="url(#cH)"/>
<circle cx="110" cy="276.1" r="4.2" fill="url(#cH)"/>
<circle cx="123.1" cy="292.7" r="4.2" fill="url(#cH)"/>
<circle cx="143.2" cy="284.4" r="4.2" fill="url(#cH)"/>
<circle cx="156.3" cy="301" r="4.2" fill="url(#cH)"/>
<circle cx="155.1" cy="316.4" r="4.2" fill="url(#cH)"/>
<circle cx="53.2" cy="296.2" r="5.3" fill="url(#cC)"/>
<circle cx="75.7" cy="287.9" r="5.0" fill="url(#cO)"/>
<circle cx="87.5" cy="304.5" r="5.3" fill="url(#cC)"/>
<circle cx="111.2" cy="295" r="5.3" fill="url(#cC)"/>
<circle cx="121.9" cy="311.6" r="5.0" fill="url(#cO)"/>
<circle cx="145.6" cy="303.3" r="5.3" fill="url(#cC)"/>
<line x1="95" y1="375" x2="116" y2="376" stroke="#7d6230" stroke-width="2.6"/>
<line x1="116" y1="376" x2="114" y2="361" stroke="#7d6230" stroke-width="2.6"/>
<line x1="116" y1="376" x2="134" y2="373" stroke="#7d6230" stroke-width="2.6"/>
<line x1="116" y1="376" x2="116" y2="400" stroke="#7d6230" stroke-width="2.6"/>
<line x1="116" y1="400" x2="98" y2="414" stroke="#7d6230" stroke-width="2.6"/>
<line x1="98" y1="414" x2="90" y2="426" stroke="#7d6230" stroke-width="2.6"/>
<line x1="98" y1="414" x2="108" y2="423" stroke="#7d6230" stroke-width="2.6"/>
<line x1="98" y1="414" x2="81" y2="396" stroke="#7d6230" stroke-width="2.6"/>
<line x1="81" y1="396" x2="66" y2="391" stroke="#7d6230" stroke-width="2.6"/>
<line x1="81" y1="396" x2="71" y2="401" stroke="#7d6230" stroke-width="2.6"/>
<line x1="81" y1="396" x2="95" y2="375" stroke="#7d6230" stroke-width="2.6"/>
<circle cx="114" cy="361" r="4.2" fill="url(#cH)"/>
<circle cx="134" cy="373" r="4.2" fill="url(#cH)"/>
<circle cx="66" cy="391" r="4.2" fill="url(#cH)"/>
<circle cx="71" cy="401" r="4.2" fill="url(#cH)"/>
<circle cx="90" cy="426" r="4.2" fill="url(#cH)"/>
<circle cx="108" cy="423" r="4.2" fill="url(#cH)"/>
<circle cx="95" cy="375" r="5.0" fill="url(#cO)"/>
<circle cx="116" cy="376" r="5.3" fill="url(#cC)"/>
<circle cx="116" cy="400" r="5.0" fill="url(#cO)"/>
<circle cx="81" cy="396" r="5.3" fill="url(#cC)"/>
<circle cx="98" cy="414" r="5.3" fill="url(#cC)"/>
<g fill="none" stroke="#000" stroke-linecap="round"><circle cx="221.6" cy="428.4" r="2.3" stroke-width="1.1"/><line x1="230.3" y1="426.1" x2="223.5" y2="436.7" stroke-width="1.8"/><line x1="224" y1="429.6" x2="249" y2="445.5" stroke-width="2.4"/><path d="M248.5,433 C253,438 253,446 245,450.3 C241,452 237,451.5 234,450" stroke-width="2.6"/></g><path d="M245.5,428.3 L252.3,433.8 L250.6,438.5 L247.4,433.4 Z M231,449.2 L236.8,446.6 L240.2,450.2 L238.4,454.3 Z" fill="#000"/>
<g font-family='"Liberation Sans", sans-serif'>
<text x="35" y="68.6" font-size="13.2" fill="#464646" stroke="#464646" stroke-width="0.25" textLength="141.5" lengthAdjust="spacingAndGlyphs">Soluble Li<tspan font-size="8" dy="-5">+</tspan><tspan dy="5">-conductive</tspan></text>
<text x="80.9" y="87.3" font-size="13.2" fill="#464646" stroke="#464646" stroke-width="0.25" textLength="53.5" lengthAdjust="spacingAndGlyphs">polymer</text>
<text x="34.2" y="266" font-size="13" fill="#383838" stroke="#383838" stroke-width="0.25" textLength="136" lengthAdjust="spacingAndGlyphs">1,2-Dimethoxyethane</text>
<text x="60.5" y="353.1" font-size="12.4" fill="#383838" stroke="#383838" stroke-width="0.25" textLength="86.5" lengthAdjust="spacingAndGlyphs">1,3-Dioxolane</text>
<text x="11.6" y="454" font-size="14.6" stroke="#1a1a1a" stroke-width="0.3" fill="#1a1a1a" textLength="178.4" lengthAdjust="spacingAndGlyphs">Leakage-proof electrolyte</text>
<text x="305.4" y="61.3" font-size="12.8" fill="#404040" stroke="#404040" stroke-width="0.2" textLength="94.3" lengthAdjust="spacingAndGlyphs">Li–S pouch cell</text>
<text x="262.5" y="450.6" font-size="14.6" stroke="#1a1a1a" stroke-width="0.3" fill="#1a1a1a" textLength="177.2" lengthAdjust="spacingAndGlyphs">Intermolecular interaction</text>
<text x="524.2" y="371.8" font-size="14.6" stroke="#1a1a1a" stroke-width="0.3" fill="#1a1a1a" textLength="147.5" lengthAdjust="spacingAndGlyphs">Electrolyte anchoring</text>
<text x="524.2" y="390.8" font-size="14.6" stroke="#1a1a1a" stroke-width="0.3" fill="#1a1a1a" textLength="94.3" lengthAdjust="spacingAndGlyphs">&amp; Cut sealing</text>
<g font-size="12.8" font-weight="bold" fill="#151515" text-anchor="middle">
<text x="456" y="99.3">O</text><text x="485.3" y="99.3">N</text><text x="514.7" y="99.3">C</text><text x="539" y="99.3">H</text><text x="569.7" y="99.3">Cl</text><text x="595" y="99.3">Li</text>
</g>
</g>
</svg>
</body></html>
